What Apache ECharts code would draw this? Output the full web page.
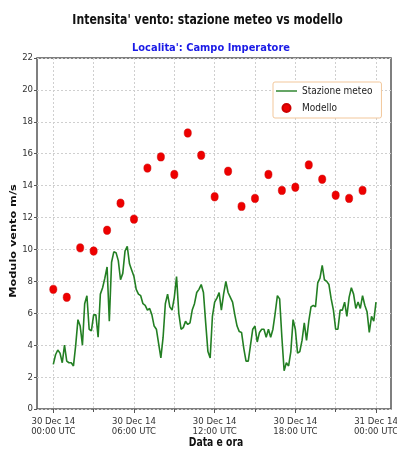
<!DOCTYPE html>
<html>
<head>
<meta charset="utf-8">
<script src="https://cdn.jsdelivr.net/npm/echarts@6/dist/echarts.min.js"></script>
<style>
  html, body { margin: 0; padding: 0; background: #fff; }
  #chart { width: 397px; height: 452px; }
</style>
</head>
<body>
<div id="chart"></div>
<script>
// Wind speed (m/s) measured by the weather station, one reading every 10 minutes from 30 Dec 14 00:00 UTC
const stationValues = [
  2.8, 3.4, 3.7, 3.5, 2.9, 4.0, 3.0, 2.9, 2.9, 2.7,
  4.0, 5.6, 5.2, 4.0, 6.6, 7.1, 5.0, 4.9, 5.9, 5.9,
  4.5, 7.2, 7.6, 8.2, 8.9, 5.5, 9.2, 9.85, 9.8, 9.3,
  8.1, 8.5, 9.9, 10.2, 9.1, 8.7, 8.3, 7.5, 7.2, 7.1,
  6.6, 6.5, 6.2, 6.3, 5.9, 5.2, 5.0, 4.1, 3.2, 4.5,
  6.6, 7.2, 6.4, 6.2, 7.0, 8.3, 6.0, 5.0, 5.1, 5.5,
  5.3, 5.4, 6.2, 6.6, 7.3, 7.5, 7.8, 7.3, 5.4, 3.6,
  3.2, 5.8, 6.7, 6.95, 7.3, 6.2, 7.2, 8.0, 7.3, 7.0,
  6.7, 5.9, 5.2, 4.85, 4.8, 3.8, 3.0, 3.0, 4.0, 5.0,
  5.2, 4.2, 4.8, 5.0, 5.0, 4.5, 5.0, 4.5, 5.0, 6.0,
  7.1, 6.9, 4.5, 2.4, 2.9, 2.7, 3.6, 5.6, 5.0, 3.5,
  3.6, 4.3, 5.4, 4.3, 5.5, 6.4, 6.5, 6.4, 7.9, 8.2,
  9.0, 8.1, 8.0, 7.8, 6.9, 6.2, 5.0, 5.0, 6.2, 6.2,
  6.7, 5.8, 7.0, 7.6, 7.2, 6.3, 6.7, 6.3, 7.1, 6.5,
  6.1, 4.8, 5.8, 5.5, 6.7
];

// Forecast model wind speed (m/s), hourly from 00:00 to 23:00 UTC
const modelValues = [
  7.5, 7.0, 10.1, 9.9, 11.2, 12.9, 11.9, 15.1, 15.8, 14.7,
  17.3, 15.9, 13.3, 14.9, 12.7, 13.2, 14.7, 13.7, 13.9, 15.3,
  14.4, 13.4, 13.2, 13.7
];

// Labels of the major time ticks (every 6 hours)
const xTickLabels = [
  '30 Dec 14\n00:00 UTC',
  '30 Dec 14\n06:00 UTC',
  '30 Dec 14\n12:00 UTC',
  '30 Dec 14\n18:00 UTC',
  '31 Dec 14\n00:00 UTC'
];

const STATION_STEP_HOURS = 10 / 60;
const stationData = stationValues.map((v, i) => [i * STATION_STEP_HOURS, v]);
const modelData = modelValues.map((v, i) => [i, v]);

const NARROW = '"DejaVu Sans Condensed", "DejaVu Sans", sans-serif';
const BOLD_FONT = 'bold {size}px "DejaVu Sans", sans-serif';
const gridLine = { color: '#cfcfcf', width: 1, type: [2, 2] };

// Flat line icon for the station entry in the legend
const LINE_ICON = 'path://M0,0M0,3.3h21v1.4h-21zM21,8';

function boldText(text, size, x, y, opts) {
  return Object.assign({
    type: 'text',
    x: x,
    y: y,
    silent: true,
    style: {
      text: text,
      font: BOLD_FONT.replace('{size}', size),
      fill: '#111',
      textAlign: 'center',
      textVerticalAlign: 'middle'
    }
  }, opts || {});
}

const chart = echarts.init(document.getElementById('chart'), null, { renderer: 'canvas' });

chart.setOption({
  animation: false,
  backgroundColor: '#ffffff',
  graphic: [
    boldText("Intensita' vento: stazione meteo vs modello", 14, 207.5, 20, { scaleX: 0.78 }),
    (function () {
      const t = boldText("Localita': Campo Imperatore", 10.5, 211, 48.5, { scaleX: 0.94 });
      t.style.fill = '#1a1ae6';
      return t;
    })(),
    boldText('Modulo vento m/s', 11.3, 14, 241, { rotation: Math.PI / 2, scaleY: 0.78 }),
    boldText('Data e ora', 12, 216, 443, { scaleX: 0.77 })
  ],
  legend: {
    orient: 'vertical',
    left: 273,
    top: 82,
    padding: [4, 9, 5, 3],
    itemGap: 7,
    itemWidth: 21,
    itemHeight: 8,
    borderColor: '#f2c79b',
    borderWidth: 1,
    borderRadius: 2,
    backgroundColor: '#ffffff',
    textStyle: { fontFamily: NARROW, fontSize: 10, color: '#222' },
    data: [
      { name: 'Stazione meteo', icon: LINE_ICON },
      { name: 'Modello', icon: 'circle' }
    ]
  },
  grid: [
    // Full plot frame with value grid
    { left: 37, right: 6, top: 58, bottom: 43, show: true, borderColor: '#555', borderWidth: 1.5,
      backgroundColor: 'transparent', containLabel: false, outerBoundsMode: 'none' },
    // Time axis area: 00:00 to 24:00
    { left: 53.3, right: 21, top: 58, bottom: 43, containLabel: false, outerBoundsMode: 'none' }
  ],
  xAxis: [
    {
      gridIndex: 0, type: 'value', min: 0, max: 1,
      show: false
    },
    {
      gridIndex: 1, type: 'value', min: 0, max: 24, interval: 6,
      axisLine: { show: false },
      axisTick: { show: true, inside: false, length: 4, lineStyle: { color: '#555', width: 1 } },
      minorTick: { show: true, splitNumber: 2, length: 3, lineStyle: { color: '#555', width: 1 } },
      axisLabel: {
        fontFamily: NARROW, fontSize: 9.5, color: '#333', margin: 7, lineHeight: 10.5,
        formatter: v => xTickLabels[Math.round(v / 6)]
      },
      splitLine: { show: true, lineStyle: gridLine },
      minorSplitLine: { show: true, lineStyle: gridLine }
    }
  ],
  yAxis: [
    {
      gridIndex: 0, type: 'value', min: 0, max: 22, interval: 2,
      axisLine: { show: false },
      axisTick: { show: true, inside: false, length: 3, lineStyle: { color: '#555', width: 1 } },
      axisLabel: { fontFamily: NARROW, fontSize: 9.5, color: '#333', margin: 4 },
      splitLine: { show: true, lineStyle: gridLine }
    },
    {
      gridIndex: 1, type: 'value', min: 0, max: 22, show: false
    }
  ],
  series: [
    {
      name: 'Stazione meteo',
      type: 'line',
      xAxisIndex: 1,
      yAxisIndex: 1,
      data: stationData,
      showSymbol: false,
      symbol: 'none',
      clip: false,
      color: '#237f23',
      lineStyle: { color: '#237f23', width: 1.6 },
      z: 3
    },
    {
      name: 'Modello',
      type: 'scatter',
      xAxisIndex: 1,
      yAxisIndex: 1,
      data: modelData,
      symbol: 'circle',
      symbolSize: [7.2, 8.4],
      clip: false,
      color: '#ee0000',
      itemStyle: { color: '#ee0000', opacity: 1, borderColor: '#cc0000', borderWidth: 0.5 },
      z: 4
    }
  ]
});
</script>
</body>
</html>
